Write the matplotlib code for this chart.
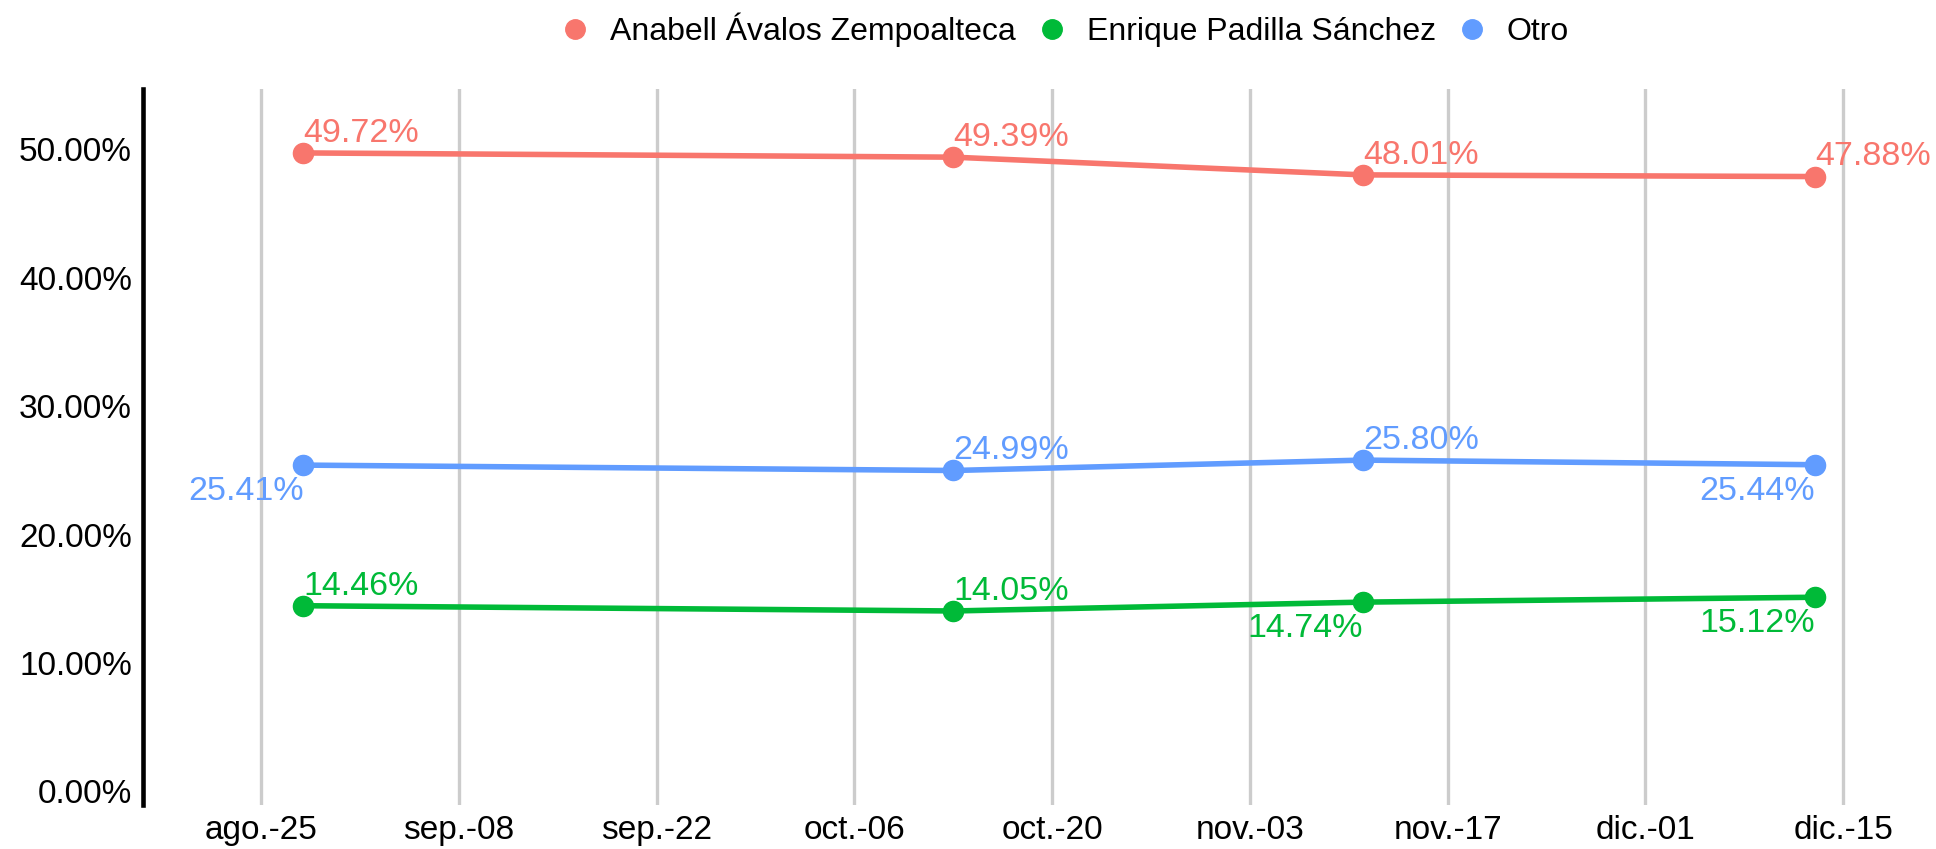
import datetime as dt
import matplotlib
matplotlib.use("Agg")
import matplotlib.pyplot as plt
import matplotlib.dates as mdates
from matplotlib.lines import Line2D

plt.rcParams["font.family"] = ["Liberation Sans", "DejaVu Sans"]

# data
dates = [dt.date(2025, 8, 28), dt.date(2025, 10, 13), dt.date(2025, 11, 11), dt.date(2025, 12, 13)]
anabell = [49.72, 49.39, 48.01, 47.88]
enrique = [14.46, 14.05, 14.74, 15.12]
otro = [25.41, 24.99, 25.80, 25.44]
names = ["Anabell Ávalos Zempoalteca", "Enrique Padilla Sánchez", "Otro"]
tick_dates = [dt.date(2025, 8, 25), dt.date(2025, 9, 8), dt.date(2025, 9, 22), dt.date(2025, 10, 6),
              dt.date(2025, 10, 20), dt.date(2025, 11, 3), dt.date(2025, 11, 17), dt.date(2025, 12, 1),
              dt.date(2025, 12, 15)]
tick_labels = ["ago.-25", "sep.-08", "sep.-22", "oct.-06", "oct.-20", "nov.-03", "nov.-17", "dic.-01", "dic.-15"]
yticks = [0, 10, 20, 30, 40, 50]

colors = ["#F8766D", "#00BA38", "#619CFF"]
# label side for each point: True = above/right of point, False = below/left
above = [
    [True, True, True, True],
    [True, True, False, False],
    [False, True, True, False],
]

fig = plt.figure(figsize=(19.36, 8.49), dpi=100)
ax = fig.add_axes([0.0739, 0.0518, 0.907, 0.8434])

x = mdates.date2num(dates)
for vals, col, ab in zip([anabell, enrique, otro], colors, above):
    ax.plot(x, vals, color=col, lw=4.0, marker="o", markersize=14.5, zorder=3)
    for xi, v, a in zip(x, vals, ab):
        if a:
            ax.annotate(f"{v:.2f}%", (xi, v), xytext=(0, 8), textcoords="offset points",
                        ha="left", va="baseline", color=col, fontsize=24.5)
        else:
            ax.annotate(f"{v:.2f}%", (xi, v), xytext=(0, -8), textcoords="offset points",
                        ha="right", va="top", color=col, fontsize=24.5)

tx = mdates.date2num(tick_dates)
ax.set_xticks(tx)
ax.set_xticklabels(tick_labels, fontsize=24)
ax.set_xlim(tx[0] - 8.35, tx[-1] + 3.96)
ax.set_ylim(-1.06, 54.7)
ax.set_yticks(yticks)
ax.set_yticklabels([f"{v:.2f}%" for v in yticks], fontsize=24)
ax.tick_params(axis="both", length=0)
ax.tick_params(axis="y", pad=8)
ax.tick_params(axis="x", pad=7)
ax.grid(axis="x", color="#cccccc", lw=2.4)
ax.grid(axis="y", visible=False)
ax.set_axisbelow(True)
for s in ["top", "right", "bottom"]:
    ax.spines[s].set_visible(False)
ax.spines["left"].set_linewidth(3.3)
ax.spines["left"].set_color("black")

handles = [Line2D([], [], color=c, marker="o", linestyle="None", markersize=14) for c in colors]
fig.legend(handles, names, loc="center", bbox_to_anchor=(0.5496, 0.965), ncol=3, frameon=False,
           fontsize=23, handlelength=1.0, handletextpad=0.6, columnspacing=0.62)

fig.savefig("out.png", dpi=100)
